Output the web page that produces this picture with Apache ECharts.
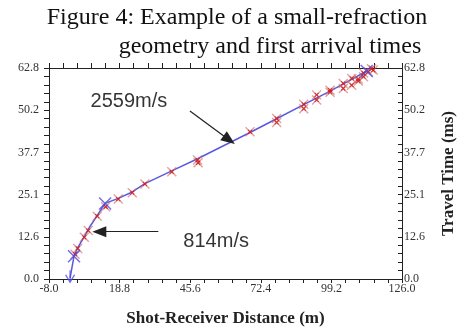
<!DOCTYPE html>
<html>
<head>
<meta charset="utf-8">
<script src="https://cdn.jsdelivr.net/npm/echarts@6/dist/echarts.min.js"></script>
<style>html,body{margin:0;padding:0;background:#fff}#c{width:467px;height:330px}</style>
</head>
<body>
<div id="c"></div>
<script>
// ---- data ----
const titleLines = ['Figure 4: Example of a small-refraction', 'geometry and first arrival times'];
const xLabelValues = [-8.0, 18.8, 45.6, 72.4, 99.2, 126.0];
const yLabelValues = [0.0, 12.56, 25.12, 37.68, 50.24, 62.8];
const xName = 'Shot-Receiver Distance (m)';
const yName = 'Travel Time (ms)';
// observed first arrivals (red x)
const obsX = [1.9, 2.9, 5.4, 6.9, 10.3, 13.5, 18.3, 23.6, 28.4, 38.6, 48.4, 48.6, 68.3, 78.4, 78.4, 88.7, 88.7, 93.6, 93.6, 98.7, 98.7, 103.7, 103.7, 106.9, 106.9, 109.4, 109.4, 111.4, 111.4, 113.2, 115.1, 114.4];
const obsY = [7.4, 9.1, 12.4, 14.4, 18.7, 21.5, 23.8, 25.7, 28.3, 31.9, 35.4, 34.6, 43.8, 47.8, 46.6, 52.0, 50.7, 54.8, 53.3, 56.2, 55.6, 58.2, 56.7, 59.7, 57.7, 59.5, 58.9, 61.3, 60.2, 61.7, 62.2, 62.6];
// modelled travel times (blue line)
const modelX = [0.0, 1.5, 2.9, 5.4, 6.9, 10.3, 13.3, 18.3, 23.6, 28.4, 38.6, 48.4, 68.3, 78.4, 88.7, 98.7, 106.9, 112.6];
const modelY = [0.3, 6.8, 9.3, 12.6, 14.8, 18.9, 22.5, 24.0, 25.9, 28.4, 32.2, 35.8, 43.6, 47.7, 51.9, 55.9, 59.4, 61.9];
// large blue node markers
const nodeX = [0.0, 1.5, 13.3, 112.6];
const nodeY = [0.8, 6.8, 22.5, 61.9];
// velocity annotations
const noteText = ['2559m/s', '814m/s'];
const noteX = [7.8, 43.0];
const noteY = [52.8, 11.3];
const arrowFromX = [45.5, 33.5];
const arrowFromY = [50.0, 14.1];
const arrowToX = [60.4, 11.1];
const arrowToY = [41.4, 14.1];

// ---- build ----
const XMIN = -8, XMAX = 126, YMIN = 0, YMAX = 62.8;
const xTicks = []; for (let i = 0; i <= 25; i++) xTicks.push(XMIN + i * (XMAX - XMIN) / 25);
const yTicks = []; for (let i = 0; i <= 25; i++) yTicks.push(YMIN + i * (YMAX - YMIN) / 25);
const zip = (a, b) => a.map((v, i) => [v, b[i]]);
const X_PATH = 'path://M0,0L10,10M10,0L0,10';
const V_PATH = 'path://M0,0L5,10L10,0M5,10L5,-6';
const serif = 'Liberation Serif';

const axisLineStyle = { color: '#222', width: 1 };
const tickStyle = { color: '#222', width: 1 };
const labelStyle = { fontFamily: serif, fontSize: 12, color: '#333' };
const nameStyle = { fontFamily: serif, fontSize: 17, fontWeight: 'bold', color: '#222' };

const chart = echarts.init(document.getElementById('c'), null, { renderer: 'canvas' });
chart.setOption({
  animation: false,
  backgroundColor: '#fff',
  title: [
    { text: titleLines[0], left: 232, top: 1, textAlign: 'center',
      textStyle: { fontFamily: serif, fontSize: 24, fontWeight: 'normal', color: '#111' } },
    { text: titleLines[1], left: 265, top: 30, textAlign: 'center',
      textStyle: { fontFamily: serif, fontSize: 24, fontWeight: 'normal', color: '#111' } }
  ],
  grid: { left: 49, right: 65, top: 68, bottom: 51, containLabel: false, outerBoundsMode: 'none' },
  xAxis: [
    { type: 'value', position: 'bottom', min: XMIN, max: XMAX,
      axisLine: { show: true, onZero: false, lineStyle: axisLineStyle },
      axisTick: { show: true, customValues: xTicks, length: 4, inside: false, lineStyle: tickStyle },
      axisLabel: Object.assign({ customValues: xLabelValues, formatter: v => v.toFixed(1), margin: 4,
        showMinLabel: true, showMaxLabel: true }, labelStyle),
      splitLine: { show: false },
      name: xName, nameLocation: 'middle', nameGap: 31, nameTextStyle: nameStyle },
    { type: 'value', position: 'top', min: XMIN, max: XMAX,
      axisLine: { show: true, onZero: false, lineStyle: axisLineStyle },
      axisTick: { show: true, customValues: xTicks, length: 5, inside: false, lineStyle: tickStyle },
      axisLabel: { show: false }, splitLine: { show: false } }
  ],
  yAxis: [
    { type: 'value', position: 'left', min: YMIN, max: YMAX,
      axisLine: { show: true, onZero: false, lineStyle: axisLineStyle },
      axisTick: { show: true, customValues: yTicks, length: 5, inside: false, lineStyle: tickStyle },
      axisLabel: Object.assign({ customValues: yLabelValues, formatter: v => v.toFixed(1), margin: 10,
        showMinLabel: true, showMaxLabel: true }, labelStyle),
      splitLine: { show: false } },
    { type: 'value', position: 'right', min: YMIN, max: YMAX,
      axisLine: { show: true, onZero: false, lineStyle: axisLineStyle },
      axisTick: { show: true, customValues: yTicks, length: 4, inside: true, lineStyle: tickStyle },
      axisLabel: Object.assign({ customValues: yLabelValues, formatter: v => v.toFixed(1), margin: 2, inside: false,
        showMinLabel: true, showMaxLabel: true }, labelStyle),
      splitLine: { show: false },
      name: yName, nameLocation: 'middle', nameGap: 38, nameTextStyle: nameStyle }
  ],
  series: [
    { type: 'line', name: 'model', data: zip(modelX, modelY), showSymbol: false, symbol: 'none',
      lineStyle: { color: '#5a5ae0', width: 1.5 }, z: 3,
      markLine: { silent: true, symbol: ['none', 'triangle'], symbolSize: [11, 14], precision: 3,
        label: { show: false },
        lineStyle: { color: '#222', width: 1.2, type: 'solid' },
        data: arrowFromX.map((v, i) => [{ coord: [v, arrowFromY[i]] }, { coord: [arrowToX[i], arrowToY[i]] }]) } },
    { type: 'scatter', name: 'observed', data: zip(obsX, obsY), symbol: X_PATH, symbolSize: 9,
      itemStyle: { color: 'rgba(0,0,0,0)', borderColor: 'rgba(205,100,100,0.75)', borderWidth: 1.4 }, z: 4 },
    { type: 'scatter', name: 'observed-core', data: zip(obsX, obsY), symbol: X_PATH, symbolSize: 4,
      itemStyle: { color: 'rgba(0,0,0,0)', borderColor: '#d01010', borderWidth: 1.1 }, z: 5 },
    { type: 'scatter', name: 'nodes', data: zip(nodeX, nodeY).map((p, i) => ({ value: p, symbol: i === 0 ? V_PATH : X_PATH, symbolSize: i === 0 ? [9, 12] : 12 })),
      itemStyle: { color: 'rgba(0,0,0,0)', borderColor: '#4a4ae0', borderWidth: 1.4 }, z: 6 },
    { type: 'scatter', name: 'notes', data: noteText.map((t, i) => ({ name: t, value: [noteX[i], noteY[i]] })),
      symbolSize: 0, silent: true,
      label: { show: true, position: 'right', distance: 0, formatter: p => p.name,
        fontFamily: 'Liberation Sans', fontSize: 20, color: '#000' } }
  ]
});
</script>
</body>
</html>
